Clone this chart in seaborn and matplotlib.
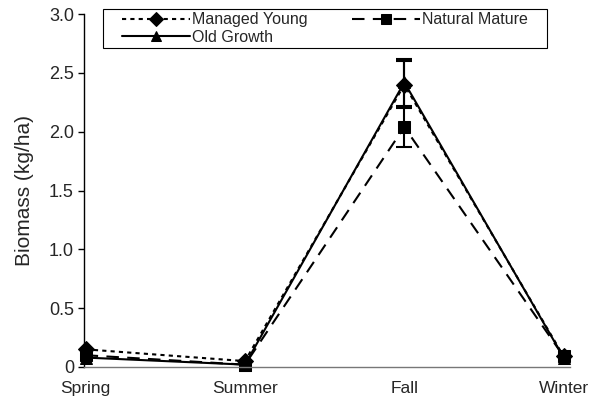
import matplotlib
matplotlib.use("Agg")
import matplotlib.pyplot as plt
from matplotlib.patches import Rectangle
import seaborn as sns
import pandas as pd

seasons = ["Spring", "Summer", "Fall", "Winter"]
sites = ["Managed Young", "Natural Mature", "Old Growth"]
managed_young = [0.15, 0.05, 2.40, 0.09]
natural_mature = [0.10, 0.02, 2.04, 0.09]
old_growth = [0.08, 0.02, 2.42, 0.08]
fall_err = {"Managed Young": 0.20, "Natural Mature": 0.17, "Old Growth": 0.20}
yticks = [0, 0.5, 1.0, 1.5, 2.0, 2.5, 3.0]
ytick_labels = ["0", "0.5", "1.0", "1.5", "2.0", "2.5", "3.0"]

values = {"Managed Young": managed_young, "Natural Mature": natural_mature, "Old Growth": old_growth}
rows = []
for s in sites:
    for season, v in zip(seasons, values[s]):
        rows.append({"season": season, "site": s, "biomass": v})
df = pd.DataFrame(rows)

sns.set_theme(style="ticks")
plt.rcParams["font.family"] = ["Liberation Sans", "DejaVu Sans"]

fig = plt.figure(figsize=(5.93, 4.04), dpi=100)
ax = fig.add_axes([0.1417, 0.0916, 0.8196, 0.8734])

markers = {"Managed Young": "D", "Natural Mature": "s", "Old Growth": "^"}
dashes = {"Managed Young": (2, 2), "Natural Mature": (6, 4), "Old Growth": ""}
sns.lineplot(data=df, x="season", y="biomass", hue="site", style="site",
             hue_order=sites, style_order=sites,
             palette=["black"] * 3, markers=markers, dashes=dashes,
             markersize=8, linewidth=1.5, sort=False, ax=ax,
             markeredgecolor="black", clip_on=False)

for s in sites:
    ax.errorbar(["Fall"], [values[s][2]], yerr=[fall_err[s]], fmt="none",
                ecolor="black", elinewidth=1.5, capsize=6, capthick=1.5)

ax.set_xlim(-0.01, 3.04)
ax.set_ylim(0, 3.0)
ax.set_yticks(yticks)
ax.set_yticklabels(ytick_labels)
ax.set_xlabel("")
ax.set_ylabel("Biomass (kg/ha)", fontsize=15, labelpad=11)
ax.tick_params(axis="y", labelsize=13, length=4.3, width=1, color="black",
               direction="out", pad=3)
ax.tick_params(axis="x", labelsize=12.5, length=0, pad=10)
sns.despine(ax=ax)
ax.spines["left"].set_color("black")
ax.spines["left"].set_linewidth(1)
ax.spines["bottom"].set_color("#777777")
ax.spines["bottom"].set_linewidth(1)

# legend frame
ax.add_patch(Rectangle((0.039, 0.9037), 0.914, 0.1103, transform=ax.transAxes,
                       fill=True, facecolor="white", edgecolor="black",
                       linewidth=0.8, clip_on=False, zorder=4))

handles, labels = ax.get_legend_handles_labels()
hmap = dict(zip(labels, handles))
order = ["Managed Young", "Old Growth", "Natural Mature"]
leg = ax.legend([hmap[k] for k in order], order, ncol=2, loc="upper left",
                bbox_to_anchor=(0.072, 1.014), borderaxespad=0,
                fontsize=11.5, handlelength=4.25, handletextpad=0.15,
                columnspacing=2.75, borderpad=0.2, labelspacing=0.15,
                frameon=False, numpoints=1, markerscale=0.9)
leg.set_zorder(5)

fig.savefig("out.png", dpi=100)
